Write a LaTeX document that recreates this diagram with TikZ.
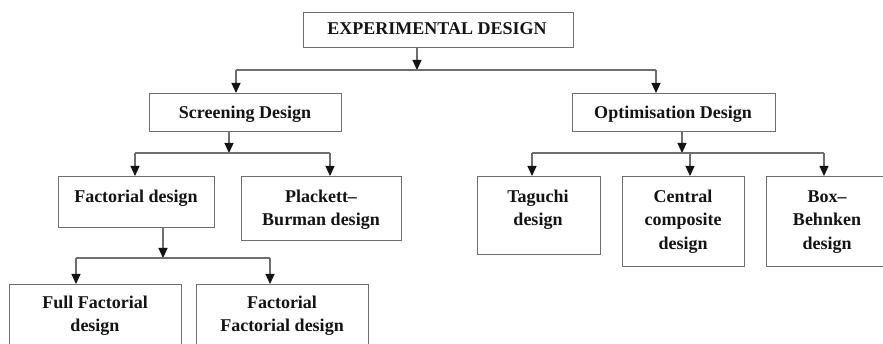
\documentclass[tikz,border=0pt]{standalone}
\usepackage{fontspec}
\setmainfont{Liberation Serif}
\usetikzlibrary{arrows.meta}
\definecolor{edge}{HTML}{6E6E6E}
\definecolor{ink}{HTML}{141414}
\tikzset{
  box/.style={draw=edge, line width=1.1pt, rectangle, inner sep=0pt, anchor=north west, fill=none},
  txt/.style={anchor=base, align=center, inner sep=0pt, text=ink, font=\fontsize{18}{23.5}\selectfont\bfseries},
  link/.style={draw=edge, line width=1.1pt},
  arr/.style={link, -{Triangle[width=9pt,length=10pt,color=ink]}}
}
\begin{document}
\begin{tikzpicture}[x=1pt,y=-1pt]
\useasboundingbox (0,0) rectangle (883,344);
\fill[white] (0,0) rectangle (883,344);
\clip (0,0) rectangle (883,344);
% boxes
\node[box, minimum width=270pt, minimum height=35pt] (top) at (303,12) {};
\node[box, minimum width=192pt, minimum height=38pt] (screen) at (149,93) {};
\node[box, minimum width=203pt, minimum height=38pt] (optim) at (572,93) {};
\node[box, minimum width=156pt, minimum height=51pt] (fact) at (58,176) {};
\node[box, minimum width=160pt, minimum height=64pt] (pb) at (241,176) {};
\node[box, minimum width=172pt, minimum height=80pt] (full) at (9,284) {};
\node[box, minimum width=172pt, minimum height=80pt] (ff) at (196,284) {};
\node[box, minimum width=123pt, minimum height=78pt] (tag) at (477,176) {};
\node[box, minimum width=122pt, minimum height=90pt] (ccd) at (622,176) {};
\node[box, minimum width=122pt, minimum height=90pt] (bb) at (766,176) {};
% texts (anchor = baseline of the last line)
\node[txt] (topt) at (437,35) {EXPERIMENTAL DESIGN};
\node[txt] (screent) at (245,118.5) {Screening Design};
\node[txt] (optimt) at (673,118.5) {Optimisation Design};
\node[txt] (factt) at (136,202.5) {Factorial design};
\node[txt] (pbt) at (321,226) {Plackett–\\Burman design};
\node[txt] (fullt) at (95,332) {Full Factorial\\design};
\node[txt] (fft) at (282,332) {Factorial\\Factorial design};
\node[txt] (tagt) at (538,226) {Taguchi\\design};
\node[txt] (ccdt) at (683,249.5) {Central\\composite\\design};
\node[txt] (bbt) at (827,249.5) {Box–\\Behnken\\design};
% junctions
\coordinate (j1) at (417,70);
\coordinate (j1l) at (236,70);
\coordinate (j1r) at (656,70);
\coordinate (j2) at (229,153);
\coordinate (j2l) at (135,153);
\coordinate (j2r) at (330,153);
\coordinate (j3) at (163,258);
\coordinate (j3l) at (76,258);
\coordinate (j3r) at (270,258);
\coordinate (j4) at (682,153);
\coordinate (j4l) at (532,153);
\coordinate (j4m) at (690,153);
\coordinate (j4r) at (824,153);
% connectors
\draw[arr] (top.south -| j1) -- (j1);
\draw[link] (j1l) -- (j1r);
\draw[arr] (j1l) -- (j1l |- screen.north);
\draw[arr] (j1r) -- (j1r |- optim.north);
\draw[arr] (screen.south -| j2) -- (j2);
\draw[link] (j2l) -- (j2r);
\draw[arr] (j2l) -- (j2l |- fact.north);
\draw[arr] (j2r) -- (j2r |- pb.north);
\draw[arr] (fact.south -| j3) -- (j3);
\draw[link] (j3l) -- (j3r);
\draw[arr] (j3l) -- (j3l |- full.north);
\draw[arr] (j3r) -- (j3r |- ff.north);
\draw[arr] (optim.south -| j4) -- (j4);
\draw[link] (j4l) -- (j4r);
\draw[arr] (j4l) -- (j4l |- tag.north);
\draw[arr] (j4m) -- (j4m |- ccd.north);
\draw[arr] (j4r) -- (j4r |- bb.north);
\end{tikzpicture}
\end{document}
